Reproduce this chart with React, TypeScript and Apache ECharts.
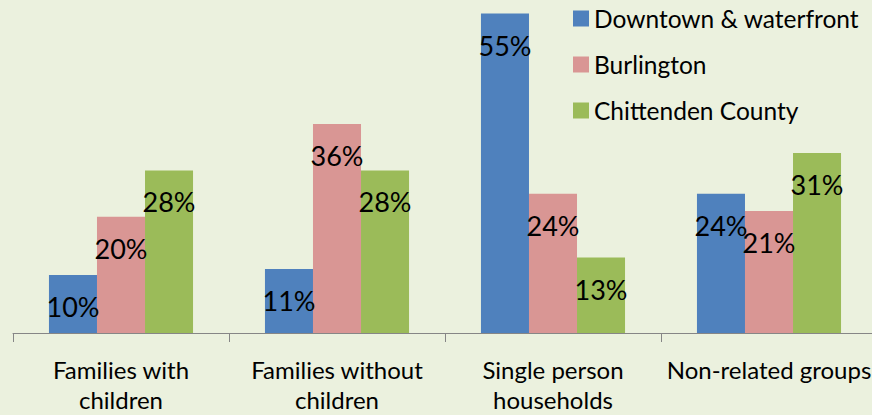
import React, { useEffect, useRef } from "react";
import * as echarts from "echarts";

const categories = [
  "Families with\nchildren",
  "Families without\nchildren",
  "Single person\nhouseholds",
  "Non-related groups",
];
const seriesNames = ["Downtown & waterfront", "Burlington", "Chittenden County"];
const downtown = [10, 11, 55, 24];
const burlington = [20, 36, 24, 21];
const chittenden = [28, 28, 13, 31];
const colors = ["#4F81BD", "#D99694", "#9BBB59"];

const FONT = "Lato, 'Open Sans', sans-serif";

export default function App() {
  const ref = useRef<HTMLDivElement>(null);

  useEffect(() => {
    if (!ref.current) return;
    const chart = echarts.init(ref.current, undefined, { renderer: "svg" });
    const values = [downtown, burlington, chittenden];
    chart.setOption({
      animation: false,
      backgroundColor: "#EBF1DE",
      textStyle: { fontFamily: FONT },
      legend: {
        orient: "vertical",
        left: 568,
        top: 1,
        itemWidth: 16,
        itemHeight: 16,
        itemGap: 21,
        icon: "rect",
        data: seriesNames,
        textStyle: {
          fontFamily: FONT,
          fontSize: 24.5,
          lineHeight: 24,
          height: 24,
          color: "#000",
        },
      },
      grid: { left: 13, top: 2, width: 864, bottom: 82 },
      xAxis: {
        type: "category",
        data: categories,
        axisLine: { lineStyle: { color: "#868686", width: 1 } },
        axisTick: { show: true, length: 9, lineStyle: { color: "#868686" } },
        axisLabel: {
          interval: 0,
          margin: 21,
          fontFamily: FONT,
          fontSize: 24,
          lineHeight: 30,
          color: "#000",
        },
      },
      yAxis: {
        type: "value",
        min: 0,
        max: 57,
        show: false,
        splitLine: { show: false },
      },
      series: seriesNames.map((name, i) => ({
        name,
        type: "bar",
        data: values[i],
        barGap: "0%",
        barCategoryGap: "33.3%",
        itemStyle: { color: colors[i] },
        label: {
          show: true,
          position: "insideTop",
          distance: 18,
          formatter: "{c}%",
          fontFamily: FONT,
          fontSize: 27,
          color: "#000",
        },
      })),
    });
    return () => chart.dispose();
  }, []);

  return (
    <div
      style={{
        position: "fixed",
        left: 0,
        top: 0,
        width: 872,
        height: 415,
        overflow: "hidden",
      }}
    >
      <div ref={ref} style={{ width: 877, height: 415 }} />
    </div>
  );
}
